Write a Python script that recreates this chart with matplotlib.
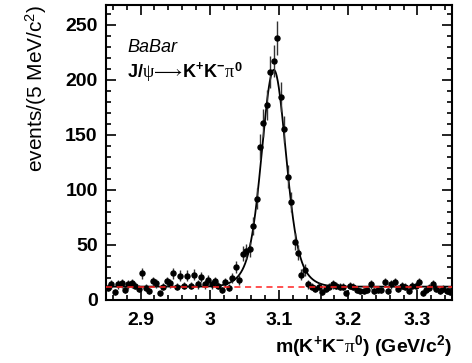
import numpy as np
import matplotlib
matplotlib.use("Agg")
import matplotlib.pyplot as plt
from matplotlib.ticker import MultipleLocator

plt.rcParams['font.family'] = ['Liberation Sans', 'DejaVu Sans']
plt.rcParams['mathtext.fontset'] = 'custom'
plt.rcParams['mathtext.rm'] = 'Liberation Sans'
plt.rcParams['mathtext.bf'] = 'Liberation Sans:bold'
plt.rcParams['mathtext.it'] = 'Liberation Serif'

# m(K+K-pi0) histogram, 5 MeV bins from 2.85 to 3.35 GeV
bin_lo, bin_hi, n_bins = 2.85, 3.35, 100
counts = [
    11, 14, 7, 14, 15, 9, 14, 15, 13, 10,
    24, 11, 8, 17, 15, 6, 12, 17, 15, 24,
    12, 22, 13, 22, 13, 23, 14, 21, 14, 18,
    14, 17, 13, 9, 16, 11, 20, 30, 18, 42,
    44, 46, 67, 92, 139, 161, 177, 207, 217, 238,
    184, 155, 112, 89, 53, 43, 23, 27, 14, 12,
    10, 12, 7, 10, 12, 14, 13, 12, 12, 6,
    13, 12, 9, 8, 8, 9, 14, 8, 9, 9,
    16, 8, 14, 16, 10, 13, 12, 8, 13, 13,
    16, 6, 9, 11, 14, 10, 8, 10, 8, 7,
]

# fit: flat background + double gaussian signal
bkg_level = 12.0
sig_mean = 3.0925
core_amp, core_sigma = 150.0, 0.016
wide_amp, wide_sigma = 47.0, 0.028

edges = np.linspace(bin_lo, bin_hi, n_bins + 1)
centers = 0.5 * (edges[:-1] + edges[1:])
counts = np.array(counts, dtype=float)
errors = np.sqrt(counts)

xf = np.linspace(bin_lo, bin_hi, 1000)
fit = (bkg_level
       + core_amp * np.exp(-0.5 * ((xf - sig_mean) / core_sigma) ** 2)
       + wide_amp * np.exp(-0.5 * ((xf - sig_mean) / wide_sigma) ** 2))

fig = plt.figure(figsize=(4.72, 3.63), dpi=100)
ax = fig.add_axes([0.2246, 0.174, 0.733, 0.8125])

ax.errorbar(centers, counts, yerr=errors, fmt='o', color='black', ms=3.6,
            ecolor='#333333', elinewidth=1.0, capsize=0, zorder=3)
ax.plot(xf, fit, color='black', lw=1.3, zorder=2)
ax.axhline(bkg_level, color='#ff2020', ls=(0, (4, 3)), lw=1.1, zorder=4)

ax.set_xlim(bin_lo, bin_hi)
ax.set_ylim(0, 268)

ax.xaxis.set_major_locator(MultipleLocator(0.1))
ax.xaxis.set_minor_locator(MultipleLocator(0.02))
ax.yaxis.set_major_locator(MultipleLocator(50))
ax.yaxis.set_minor_locator(MultipleLocator(10))
ax.xaxis.set_major_formatter(matplotlib.ticker.FuncFormatter(lambda v, p: f'{v:g}'))

ax.tick_params(which='both', direction='in', top=True, right=True, width=1.2)
ax.tick_params(which='major', length=7)
ax.tick_params(which='minor', length=3.5)
ax.tick_params(axis='x', which='major', pad=9)
ax.tick_params(axis='y', which='major', pad=6)
for lab in ax.get_xticklabels() + ax.get_yticklabels():
    lab.set_fontsize(14)
    lab.set_fontweight('bold')
for sp in ax.spines.values():
    sp.set_linewidth(1.5)

ax.text(0.061, 0.854, 'BaBar', transform=ax.transAxes, fontsize=13,
        style='italic', va='center', ha='left')
ax.text(0.061, 0.773,
        r'$\mathbf{J/}\psi\!\longrightarrow\!\mathbf{K^{+}K^{-}}\pi^{\mathbf{0}}$',
        transform=ax.transAxes, fontsize=13, va='center', ha='left')

fig.text(0.078, 0.986, r'events/(5 MeV/c$^{2}$)', rotation=90, fontsize=15,
         ha='center', va='top')
fig.text(0.9576, 0.012, r'$\mathbf{m(K^{+}K^{-}}\pi^{\mathbf{0}}\mathbf{)\ (GeV/c^{2})}$',
         fontsize=14, ha='right', va='bottom')

fig.savefig('out.png', dpi=100)
